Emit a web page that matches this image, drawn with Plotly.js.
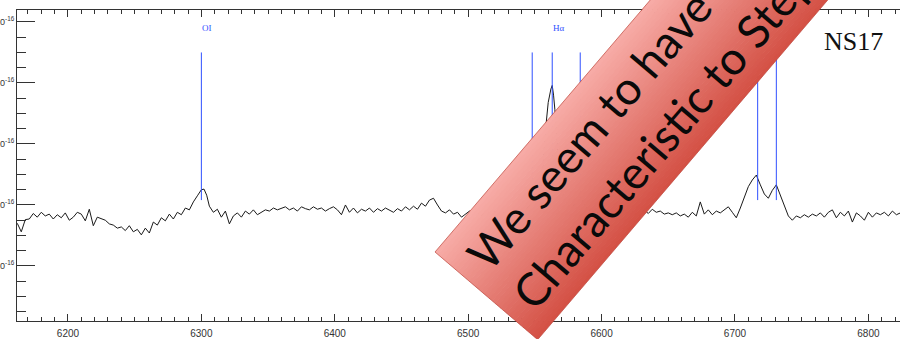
<!DOCTYPE html>
<html>
<head>
<meta charset="utf-8">
<script src="https://cdn.plot.ly/plotly-3.0.1.min.js"></script>
<style>
  html, body { margin: 0; padding: 0; background: #ffffff; }
  #chart { width: 900px; height: 339px; }
</style>
</head>
<body>
<div id="chart"></div>
<script>
// NS17 optical spectrum, flux in units of 1e-16
const wavelength = [
  6162, 6165, 6168, 6171, 6174, 6177, 6180, 6183, 6186, 6189, 6192, 6195, 6198,
  6201, 6204, 6207, 6210, 6213, 6216, 6219, 6222, 6225, 6228, 6231, 6234, 6237,
  6240, 6243, 6246, 6249, 6252, 6255, 6258, 6261, 6264, 6267, 6270, 6273, 6276,
  6279, 6282, 6285, 6288, 6291, 6294, 6297, 6300, 6302, 6304, 6306, 6309, 6312,
  6315, 6318, 6321, 6324, 6327, 6330, 6333, 6336, 6339, 6342, 6345, 6348, 6351,
  6354, 6357, 6360, 6363, 6366, 6369, 6372, 6375, 6378, 6381, 6384, 6387, 6390,
  6393, 6396, 6399, 6402, 6405, 6408, 6411, 6414, 6417, 6420, 6423, 6426, 6429,
  6432, 6435, 6438, 6441, 6444, 6447, 6450, 6453, 6456, 6459, 6462, 6465, 6468,
  6471, 6474, 6477, 6480, 6483, 6486, 6489, 6492, 6495, 6498, 6501, 6504, 6507,
  6510, 6513, 6516, 6519, 6522, 6525, 6528, 6531, 6534, 6537, 6540, 6543, 6546,
  6549, 6552, 6555, 6558, 6560, 6562, 6563, 6564, 6565, 6567, 6569, 6572, 6575,
  6578, 6581, 6584, 6587, 6590, 6593, 6596, 6599, 6602, 6605, 6608, 6611, 6614,
  6617, 6620, 6623, 6626, 6629, 6632, 6635, 6638, 6641, 6644, 6647, 6650, 6653,
  6656, 6659, 6662, 6665, 6668, 6671, 6674, 6677, 6680, 6683, 6686, 6689, 6692,
  6695, 6698, 6701, 6704, 6707, 6710, 6713, 6716, 6719, 6722, 6725, 6728, 6731,
  6734, 6737, 6740, 6743, 6746, 6749, 6752, 6755, 6758, 6761, 6764, 6767, 6770,
  6773, 6776, 6779, 6782, 6785, 6788, 6791, 6794, 6797, 6800, 6803, 6806, 6809,
  6812, 6815, 6818, 6821, 6824
];
const flux = [
  0.85, 0.78, 0.88, 0.885, 0.93, 0.90, 0.94, 0.91, 0.925, 0.885, 0.92, 0.895, 0.935,
  0.875, 0.90, 0.94, 0.925, 0.87, 0.965, 0.83, 0.90, 0.885, 0.875, 0.845, 0.835, 0.81,
  0.82, 0.79, 0.83, 0.78, 0.80, 0.755, 0.81, 0.77, 0.86, 0.835, 0.895, 0.87, 0.925,
  0.885, 0.94, 0.92, 0.975, 0.96, 1.025, 1.075, 1.125, 1.13, 1.08, 0.99, 0.94, 0.965,
  0.90, 0.95, 0.845, 0.91, 0.935, 0.90, 0.95, 0.925, 0.96, 0.92, 0.94, 0.96, 0.95,
  0.975, 0.96, 0.97, 0.985, 0.96, 0.975, 0.95, 0.985, 0.97, 0.96, 0.985, 0.965, 0.975,
  0.95, 0.97, 0.985, 0.96, 0.92, 1.00, 0.94, 0.975, 0.935, 0.965, 0.95, 0.975, 0.94,
  0.97, 0.95, 0.975, 0.96, 0.94, 0.97, 0.95, 0.985, 0.96, 0.99, 0.965, 1.015, 0.99,
  1.04, 1.055, 1.00, 0.95, 0.935, 0.96, 0.925, 0.94, 0.90, 0.925, 0.95, 0.92, 0.94,
  0.91, 0.95, 0.93, 0.96, 0.92, 0.94, 0.93, 0.96, 0.94, 0.95, 0.97, 0.96, 1.00,
  1.06, 1.05, 1.15, 1.62, 1.84, 1.95, 1.98, 1.90, 1.78, 1.45, 1.18, 1.04, 0.99,
  0.98, 1.03, 1.08, 1.00, 0.96, 0.94, 0.95, 0.92, 0.94, 0.93, 0.95, 0.92, 0.94,
  0.96, 0.93, 0.95, 0.92, 0.94, 0.96, 0.93, 0.965, 0.94, 0.95, 0.925, 0.935, 0.92,
  0.935, 0.91, 0.925, 0.90, 0.94, 0.91, 1.025, 0.925, 0.96, 0.92, 0.95, 0.935, 0.96,
  0.985, 0.94, 0.895, 0.975, 1.06, 1.15, 1.205, 1.245, 1.165, 1.09, 1.055, 1.12, 1.165,
  1.08, 0.985, 0.91, 0.875, 0.91, 0.895, 0.92, 0.90, 0.925, 0.91, 0.935, 0.90, 0.94,
  0.96, 0.895, 0.94, 0.91, 0.95, 0.86, 0.935, 0.91, 0.875, 0.94, 0.90, 0.935, 0.92,
  0.94, 0.91, 0.95, 0.92, 0.935
];

// Emission-line markers: [OI] 6300, [NII] 6548, Halpha, [NII] 6584, [SII] 6717/6731
const lineWaves = [6300, 6548, 6563, 6584, 6717, 6731];
const lineTop = 2.25;
const lineBottom = 1.04;
const labelWaves = [6300, 6563];
const labelTexts = ['OI', 'H\u03b1'];
const labelLevel = 2.45;

const xTickVals = [6200, 6300, 6400, 6500, 6600, 6700, 6800];
const yTickVals = [0.5, 1.0, 1.5, 2.0, 2.5];
const yTickText = yTickVals.map(v => v.toFixed(1) + '\u00d710<sup>-16</sup>');

const objectName = 'NS17';
const bannerLines = ['We seem to have found', 'Characteristic to Stephenson'];

// frame geometry (pixels)
const W = 900, H = 339;
const M = { l: 17, r: 0, t: 10, b: 18 };
const PW = W - M.l - M.r, PH = H - M.t - M.b;
const px = x => (x - M.l) / PW;
const py = y => 1 - (y - M.t) / PH;

// marker segments built from the line list
const segX = [], segY = [];
lineWaves.forEach(w => { segX.push(w, w, null); segY.push(lineTop, lineBottom, null); });

const traces = [
  { x: wavelength, y: flux, type: 'scatter', mode: 'lines',
    line: { color: '#1a1a1a', width: 1 }, hoverinfo: 'skip' },
  { x: segX, y: segY, type: 'scatter', mode: 'lines',
    line: { color: '#2f50ff', width: 1 }, hoverinfo: 'skip' }
];

// tilted callout ribbon
const theta = 49.5 * Math.PI / 180;
const u = [Math.cos(theta), -Math.sin(theta)];   // along the ribbon
const v = [Math.sin(theta), Math.cos(theta)];    // across the ribbon
const corner = [435, 252];
const ribbonWidth = 135, ribbonLength = 720;
const pt = (s, t) => [corner[0] + s * u[0] + t * v[0], corner[1] + s * u[1] + t * v[1]];
const light = [248, 172, 167], dark = [211, 80, 68];
const shapes = [];
const strips = 36;
for (let i = 0; i < strips; i++) {
  const t0 = ribbonWidth * i / strips, t1 = Math.min(ribbonWidth, ribbonWidth * (i + 1) / strips + 0.6);
  const f = (i + 0.5) / strips;
  const c = light.map((a, k) => Math.round(a + (dark[k] - a) * f));
  const p = [pt(0, t0), pt(ribbonLength, t0), pt(ribbonLength, t1), pt(0, t1)];
  const path = 'M' + p.map(q => px(q[0]).toFixed(5) + ',' + py(q[1]).toFixed(5)).join(' L') + ' Z';
  shapes.push({ type: 'path', xref: 'paper', yref: 'paper', layer: 'above', path: path,
    fillcolor: 'rgb(' + c.join(',') + ')', line: { width: 0 } });
}
{
  const p = [pt(0, 0), pt(ribbonLength, 0), pt(ribbonLength, ribbonWidth), pt(0, ribbonWidth)];
  shapes.push({ type: 'path', xref: 'paper', yref: 'paper', layer: 'above',
    path: 'M' + p.map(q => px(q[0]).toFixed(5) + ',' + py(q[1]).toFixed(5)).join(' L') + ' Z',
    line: { color: 'rgba(190,70,60,0.7)', width: 1 } });
}

// ribbon text, laid along the ribbon
const ribbonFont = 'Lato';
const ctx = document.createElement('canvas').getContext('2d');
ctx.font = '100px ' + ribbonFont;
const ribbonSize = 100 * 278 / ctx.measureText('Characteristic').width;
ctx.font = ribbonSize + 'px ' + ribbonFont;
const baselines = [56, 116];
const textStart = 19;
const annotations = [];
bannerLines.forEach((txt, i) => {
  const w = ctx.measureText(txt).width;
  const c = pt(textStart + w / 2, baselines[i] - 0.39 * ribbonSize);
  annotations.push({ xref: 'paper', yref: 'paper', x: px(c[0]), y: py(c[1]),
    xanchor: 'center', yanchor: 'middle', showarrow: false, textangle: -49.5,
    text: txt, font: { family: ribbonFont, size: ribbonSize, color: '#0a0a0a' } });
});

labelWaves.forEach((w, i) => {
  annotations.push({ xref: 'x', yref: 'y', x: w, y: labelLevel, xanchor: 'left', yanchor: 'middle',
    showarrow: false, text: labelTexts[i], borderpad: 0,
    font: { family: 'Liberation Serif', size: 9, color: '#2f50ff' } });
});
annotations.push({ xref: 'paper', yref: 'paper', x: px(853), y: py(42), xanchor: 'center', yanchor: 'middle',
  showarrow: false, text: objectName, font: { family: 'Liberation Serif', size: 26, color: '#111111' } });

const xRange = [6161.8, 6823.7];
const yRange = [0.049, 2.598];

const layout = {
  width: W, height: H,
  margin: M,
  paper_bgcolor: '#ffffff', plot_bgcolor: '#ffffff',
  showlegend: false,
  xaxis: {
    range: xRange, showgrid: false, zeroline: false,
    showline: true, linecolor: '#333', linewidth: 1, mirror: 'ticks',
    ticks: 'inside', ticklen: 7, tickcolor: '#333', tickwidth: 1,
    tickvals: xTickVals, ticklabelstandoff: 3,
    tickfont: { family: 'Liberation Sans', size: 10, color: '#333' },
    minor: { dtick: 10, ticks: 'inside', ticklen: 4, tickcolor: '#333', tickwidth: 1, showgrid: false }
  },
  yaxis: {
    range: yRange, showgrid: false, zeroline: false,
    showline: true, linecolor: '#333', linewidth: 1, mirror: true,
    ticks: 'inside', ticklen: 18, tickcolor: '#333', tickwidth: 1,
    tickvals: yTickVals, ticktext: yTickText, ticklabelstandoff: 0,
    tickfont: { family: 'Liberation Sans', size: 9, color: '#333' },
    minor: { dtick: 0.125, ticks: 'inside', ticklen: 9, tickcolor: '#333', tickwidth: 1, showgrid: false }
  },
  yaxis2: {
    overlaying: 'y', side: 'right', range: yRange, showgrid: false, zeroline: false,
    showline: false, ticks: 'inside', ticklen: 5, tickcolor: '#333', tickwidth: 1,
    tickvals: yTickVals, showticklabels: false,
    minor: { dtick: 0.125, ticks: 'inside', ticklen: 3, tickcolor: '#333', tickwidth: 1, showgrid: false }
  },
  shapes: shapes,
  annotations: annotations
};

Plotly.newPlot('chart', traces, layout, { staticPlot: true, displayModeBar: false });
</script>
</body>
</html>
